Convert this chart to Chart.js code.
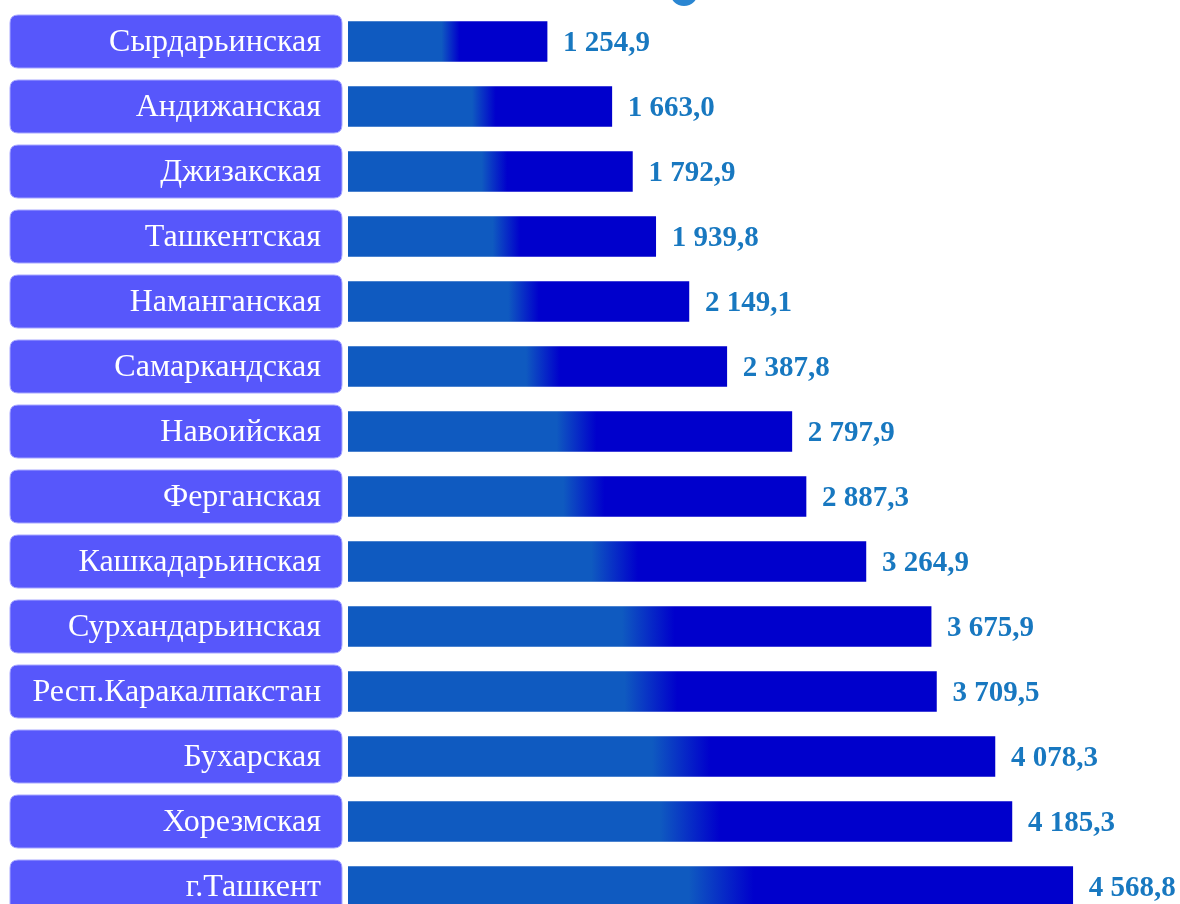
<!DOCTYPE html>
<html>
<head>
<meta charset="utf-8">
<script src="https://cdn.jsdelivr.net/npm/chart.js@4/dist/chart.umd.min.js"></script>
<style>
html,body{margin:0;padding:0;background:#fff;overflow:hidden;}
#wrap{width:1180px;height:920px;}
</style>
</head>
<body>
<div id="wrap"><canvas id="c" width="1180" height="920"></canvas></div>
<script>
const regions = ["Сырдарьинская","Андижанская","Джизакская","Ташкентская","Наманганская","Самаркандская","Навоийская","Ферганская","Кашкадарьинская","Сурхандарьинская","Респ.Каракалпакстан","Бухарская","Хорезмская","г.Ташкент"];
const values = [1254.9,1663.0,1792.9,1939.8,2149.1,2387.8,2797.9,2887.3,3264.9,3675.9,3709.5,4078.3,4185.3,4568.8];

function fmt(v){
  const s = v.toFixed(1).split('.');
  const int = s[0].replace(/\B(?=(\d{3})+(?!\d))/g,' ');
  return int + ',' + s[1];
}

function roundRect(ctx,x,y,w,h,r){
  ctx.beginPath();
  ctx.moveTo(x+r,y);
  ctx.lineTo(x+w-r,y);
  ctx.quadraticCurveTo(x+w,y,x+w,y+r);
  ctx.lineTo(x+w,y+h-r);
  ctx.quadraticCurveTo(x+w,y+h,x+w-r,y+h);
  ctx.lineTo(x+r,y+h);
  ctx.quadraticCurveTo(x,y+h,x,y+h-r);
  ctx.lineTo(x,y+r);
  ctx.quadraticCurveTo(x,y,x+r,y);
  ctx.closePath();
}

const decor = {
  id:'decor',
  beforeDatasetsDraw(chart){
    const ctx = chart.ctx;
    const ys = chart.scales.y;
    ctx.save();
    ctx.fillStyle = '#2a86d2';
    ctx.beginPath(); ctx.arc(684,-8,14,0,Math.PI*2); ctx.fill();
    chart.data.labels.forEach((lab,i)=>{
      const cy = ys.getPixelForValue(i);
      roundRect(ctx,10,cy-26.5,332,53,8);
      ctx.fillStyle = '#5757fb';
      ctx.fill();
      ctx.strokeStyle = '#a8a8ff';
      ctx.lineWidth = 1;
      ctx.stroke();
      ctx.fillStyle = '#ffffff';
      ctx.font = '32px "Liberation Serif", "Times New Roman", serif';
      ctx.textAlign = 'right';
      ctx.textBaseline = 'middle';
      ctx.fillText(lab, 321, cy+1);
    });
    ctx.restore();
  },
  afterDatasetsDraw(chart){
    const ctx = chart.ctx;
    const meta = chart.getDatasetMeta(0);
    ctx.save();
    ctx.fillStyle = '#1878c0';
    ctx.font = 'bold 29px "Liberation Serif", "Times New Roman", serif';
    ctx.textAlign = 'left';
    ctx.textBaseline = 'middle';
    meta.data.forEach((bar,i)=>{
      ctx.fillText(fmt(chart.data.datasets[0].data[i]), bar.x+16, bar.y+2);
    });
    ctx.restore();
  }
};

new Chart(document.getElementById('c'),{
  type:'bar',
  data:{
    labels:regions,
    datasets:[{
      data:values,
      barThickness:40,
      borderWidth:0,
      backgroundColor(ctx){
        const chart = ctx.chart;
        if(!chart.chartArea || ctx.dataIndex===undefined) return '#0000cc';
        const xs = chart.scales.x;
        const x0 = xs.getPixelForValue(0);
        const x1 = xs.getPixelForValue(ctx.raw);
        const g = chart.ctx.createLinearGradient(x0,0,x1,0);
        g.addColorStop(0,'#0f5ac0');
        g.addColorStop(0.47,'#0f5ac0');
        g.addColorStop(0.56,'#0000cc');
        g.addColorStop(1,'#0000cc');
        return g;
      }
    }]
  },
  options:{
    indexAxis:'y',
    responsive:false,
    animation:false,
    devicePixelRatio:1,
    layout:{padding:{left:348,right:0,top:9,bottom:1}},
    plugins:{legend:{display:false},tooltip:{enabled:false}},
    scales:{
      x:{display:false,min:0,max:5245,grid:{display:false}},
      y:{display:false,grid:{display:false}}
    }
  },
  plugins:[decor]
});
</script>
</body>
</html>
